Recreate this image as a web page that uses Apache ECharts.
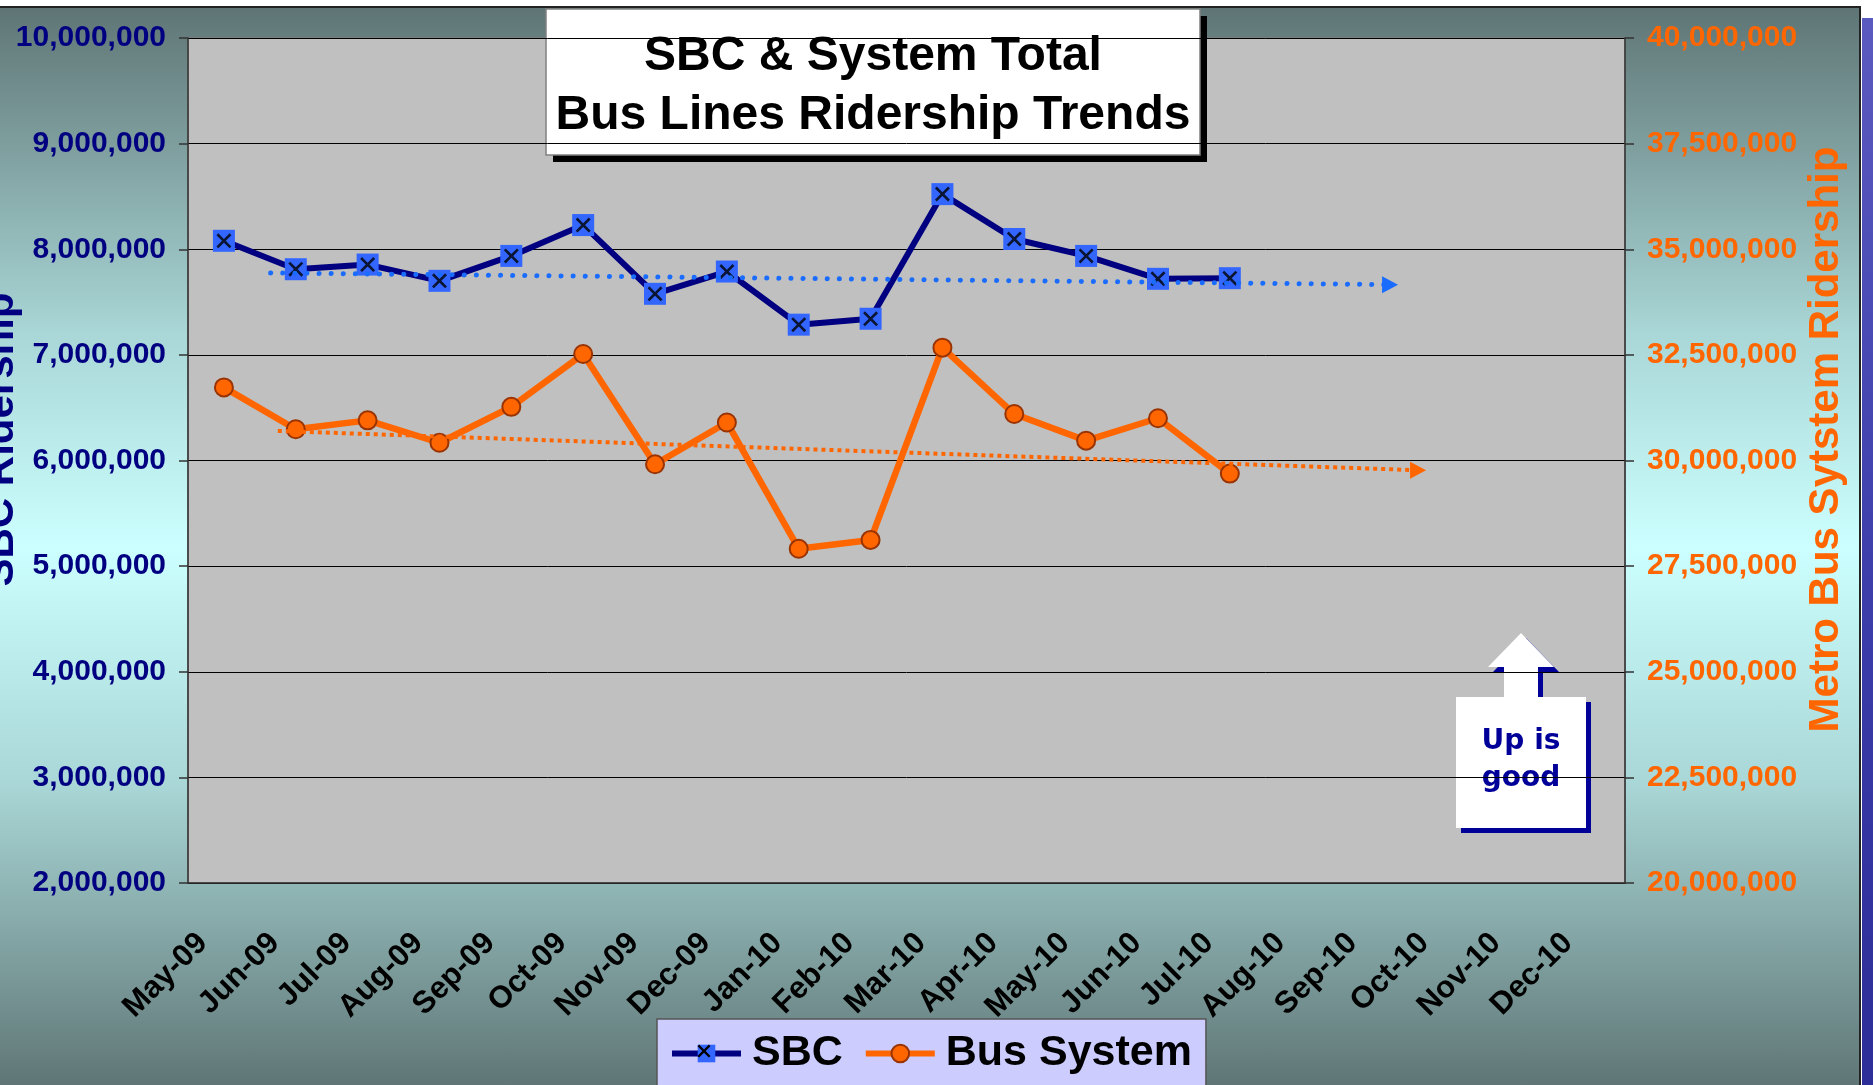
<!DOCTYPE html>
<html>
<head>
<meta charset="utf-8">
<script src="https://cdn.jsdelivr.net/npm/echarts@6/dist/echarts.min.js"></script>
<style>
  html, body { margin: 0; padding: 0; background: #ffffff; }
  body { width: 1873px; height: 1085px; position: relative; overflow: hidden; }
  .frame {
    position: absolute; left: 0; top: 6px; width: 1859px; height: 1079px;
    border-top: 2px solid #222; border-right: 2px solid #222;
    background: linear-gradient(to bottom, #5f7575 0%, #a9d6d6 30%, #ccffff 50%, #a9d6d6 72%, #5f7575 100%);
  }
  .slide { position: absolute; left: 1862px; top: 18px; width: 11px; height: 1067px;
    background: linear-gradient(to bottom, #5a5ac0, #3a3aa8 60%, #2e2e98); }
  #chart { position: absolute; left: 0; top: 0; width: 1873px; height: 1085px; }
</style>
</head>
<body>
<div class="frame"></div>
<div class="slide"></div>
<div id="chart"></div>
<script>
// months on the category axis
const months = ['May-09', 'Jun-09', 'Jul-09', 'Aug-09', 'Sep-09', 'Oct-09', 'Nov-09', 'Dec-09',
  'Jan-10', 'Feb-10', 'Mar-10', 'Apr-10', 'May-10', 'Jun-10', 'Jul-10', 'Aug-10',
  'Sep-10', 'Oct-10', 'Nov-10', 'Dec-10']

// monthly ridership
const sbcRidership = [8080000, 7811000, 7855000, 7701000, 7937000, 8229000, 7578000, 7789000,
  7286000, 7342000, 8522000, 8097000, 7937000, 7720000, 7726000]
const busSystemRidership = [31730000, 30740000, 30950000, 30420000, 31270000, 32520000, 29910000, 30900000,
  27910000, 28120000, 32670000, 31100000, 30470000, 31000000, 29690000]

// trend lines: [position along month axis, value] at start and at arrow head
const sbcTrend = [[1.15, 7776000], [16.73, 7665000]]
const busTrend = [[1.25, 30700000], [17.12, 29770000]]

const FONT = '"Liberation Sans", Arial, sans-serif'
const fmt = v => Math.round(v).toLocaleString('en-US')

// cross drawn on the SBC markers, in a 12x12 box
const crossPts = [[1.5, 0], [6, 4.5], [10.5, 0], [12, 1.5], [7.5, 6], [12, 10.5], [10.5, 12],
  [6, 7.5], [1.5, 12], [0, 10.5], [4.5, 6], [0, 1.5]]
const X_MARK = 'path://M' + crossPts.map(p => p.join(',')).join(' L') + ' Z'

const chart = echarts.init(document.getElementById('chart'))

function trendData (pts) {
  return [
    { value: pts[0], symbol: 'none' },
    { value: pts[1], symbol: 'triangle', symbolRotate: -90, symbolSize: [17, 16] }
  ]
}

const callout = [[1521, 633], [1554, 667], [1538, 667], [1538, 697], [1586, 697], [1586, 828],
  [1456, 828], [1456, 697], [1504, 697], [1504, 667], [1488, 667]]

const options = {
  animation: false,
  backgroundColor: 'transparent',
  grid: {
    left: 188, top: 38, width: 1437, height: 845,
    containLabel: false, outerBoundsMode: 'none',
    show: true, backgroundColor: '#c0c0c0', borderColor: '#808080', borderWidth: 1.5
  },
  legend: {
    data: ['SBC', 'Bus System'],
    left: 657, top: 1019,
    itemWidth: 69, itemHeight: 22, itemGap: 20,
    padding: [13, 14, 30, 12],
    backgroundColor: '#ccccff', borderColor: '#555', borderWidth: 1.5,
    lineStyle: { width: 6 },
    textStyle: { fontFamily: FONT, fontSize: 43, fontWeight: 'bold', color: '#000', padding: [0, 0, 0, 6] }
  },
  xAxis: [
    {
      type: 'category',
      data: months,
      boundaryGap: true,
      axisLine: { lineStyle: { color: '#333', width: 1.5 } },
      axisTick: { length: 11, lineStyle: { color: '#333', width: 1.5 } },
      axisLabel: {
        interval: 0, rotate: 45, margin: 34, padding: [0, 30, 0, 0],
        fontFamily: FONT, fontSize: 31, fontWeight: 'bold', color: '#000'
      },
      splitLine: { show: false }
    },
    { type: 'value', min: 0, max: 20, show: false }
  ],
  yAxis: [
    {
      type: 'value', min: 2000000, max: 10000000, interval: 1000000,
      position: 'left',
      name: 'SBC Ridership', nameLocation: 'middle', nameRotate: 90, nameGap: 166,
      nameMoveOverlap: false,
      nameTextStyle: { fontFamily: FONT, fontSize: 42, fontWeight: 'bold', color: '#000080', padding: [0, 0, 0, 42] },
      axisLine: { show: true, lineStyle: { color: '#333', width: 1.5 } },
      axisTick: { show: true, length: 9, lineStyle: { color: '#333', width: 1.5 } },
      axisLabel: { margin: 22, fontFamily: FONT, fontSize: 30, fontWeight: 'bold', color: '#000080', formatter: fmt },
      splitLine: { show: true, lineStyle: { color: '#000', width: 1 } }
    },
    {
      type: 'value', min: 20000000, max: 40000000, interval: 2500000,
      position: 'right',
      name: 'Metro Bus Sytstem Ridership', nameLocation: 'middle', nameRotate: 90, nameGap: 180,
      nameMoveOverlap: false,
      nameTextStyle: { fontFamily: FONT, fontSize: 42, fontWeight: 'bold', color: '#ff6600', padding: [0, 0, 0, 42] },
      axisLine: { show: true, lineStyle: { color: '#333', width: 1.5 } },
      axisTick: { show: true, length: 9, lineStyle: { color: '#333', width: 1.5 } },
      axisLabel: { margin: 22, fontFamily: FONT, fontSize: 30, fontWeight: 'bold', color: '#ff6600', formatter: fmt },
      splitLine: { show: false }
    }
  ],
  series: [
    {
      name: 'Bus System', type: 'line', xAxisIndex: 0, yAxisIndex: 1,
      data: busSystemRidership,
      symbol: 'circle', symbolSize: 18,
      lineStyle: { color: '#ff6600', width: 6.5 },
      itemStyle: { color: '#ff6600', borderColor: '#993300', borderWidth: 2 },
      z: 3
    },
    {
      name: 'SBC', type: 'line', xAxisIndex: 0, yAxisIndex: 0,
      data: sbcRidership,
      symbol: 'rect', symbolSize: 22,
      lineStyle: { color: '#000080', width: 6 },
      itemStyle: { color: '#3366ff' },
      z: 4
    },
    {
      name: 'SBC marks', type: 'scatter', xAxisIndex: 0, yAxisIndex: 0,
      data: sbcRidership, silent: true,
      symbol: X_MARK,
      symbolSize: 15,
      itemStyle: { color: '#000' },
      z: 5
    },
    {
      name: 'SBC trend', type: 'line', xAxisIndex: 1, yAxisIndex: 0,
      data: trendData(sbcTrend), silent: true,
      lineStyle: { color: '#1a6cff', width: 5, type: [0.1, 12], cap: 'round' },
      itemStyle: { color: '#1a6cff' },
      z: 6
    },
    {
      name: 'Bus trend', type: 'line', xAxisIndex: 1, yAxisIndex: 1,
      data: trendData(busTrend), silent: true,
      lineStyle: { color: '#ff6600', width: 4, type: [4, 4] },
      itemStyle: { color: '#ff6600' },
      z: 6
    }
  ],
  graphic: [
    {
      type: 'group', z: 10,
      children: [
        { type: 'rect', shape: { x: 553, y: 16, width: 654, height: 146 }, style: { fill: '#000' } },
        { type: 'rect', shape: { x: 546, y: 9, width: 654, height: 146 }, style: { fill: '#fff', stroke: '#808080', lineWidth: 1.5 } },
        { type: 'text', x: 873, y: 57, style: { text: 'SBC & System Total', font: 'bold 48px ' + FONT, fill: '#000', align: 'center', verticalAlign: 'middle' } },
        { type: 'text', x: 873, y: 116, style: { text: 'Bus Lines Ridership Trends', font: 'bold 48px ' + FONT, fill: '#000', align: 'center', verticalAlign: 'middle' } }
      ]
    },
    {
      type: 'group', z: 10,
      children: [
        { type: 'polygon', x: 5, y: 5, shape: { points: callout }, style: { fill: '#000099' } },
        { type: 'polygon', shape: { points: callout }, style: { fill: '#fff' } },
        { type: 'text', x: 1521, y: 742, style: { text: 'Up is', font: 'bold 28px "DejaVu Sans", sans-serif', fill: '#000099', align: 'center', verticalAlign: 'middle' } },
        { type: 'text', x: 1521, y: 779, style: { text: 'good', font: 'bold 28px "DejaVu Sans", sans-serif', fill: '#000099', align: 'center', verticalAlign: 'middle' } }
      ]
    },
    {
      // the cross on the SBC legend marker
      type: 'polygon', z: 20,
      x: 697.5, y: 1044.5, scaleX: 13 / 12, scaleY: 13 / 12,
      shape: { points: crossPts },
      style: { fill: '#000' }
    }
  ]
}

chart.setOption(options)
</script>
</body>
</html>
